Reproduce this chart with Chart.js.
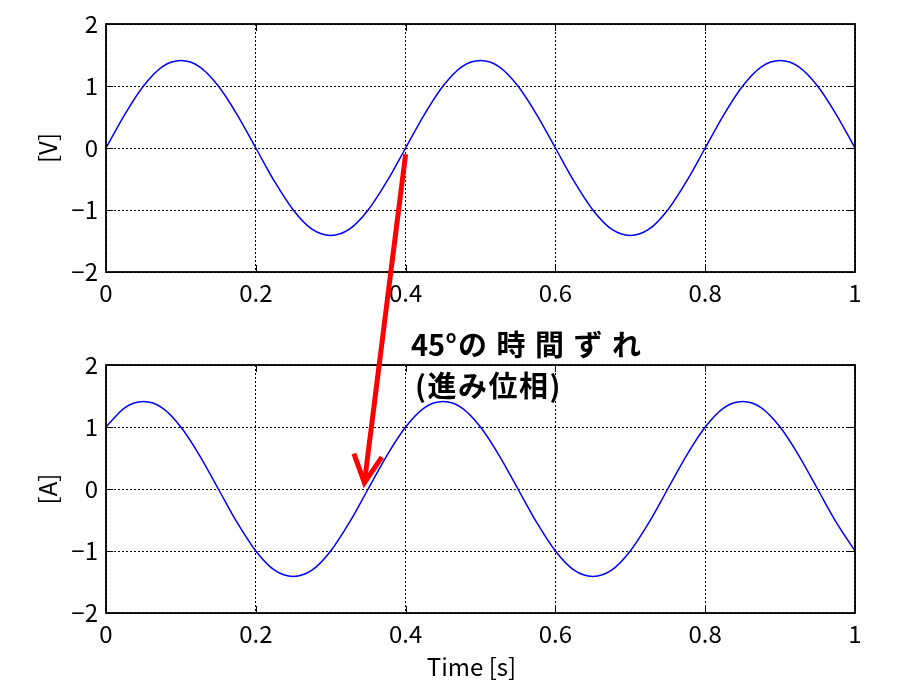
<!DOCTYPE html>
<html><head><meta charset="utf-8">
<script src="https://cdn.jsdelivr.net/npm/chart.js@4/dist/chart.umd.min.js"></script>
<style>
html,body{margin:0;padding:0;background:#fff;}
#wrap{position:relative;width:900px;height:695px;overflow:hidden;background:#fff;}
.box{position:absolute;left:0;width:900px;}
#c1box{top:0;height:310px;}
#c2box{top:341px;height:354px;}
#overlay{position:absolute;left:0;top:0;pointer-events:none;}
.note{position:absolute;font-family:"Noto Sans CJK JP";font-weight:bold;font-size:29px;color:#000;white-space:nowrap;line-height:1;}
</style></head><body>
<div id="wrap">
<div class="box" id="c1box"><canvas id="c1"></canvas></div>
<div class="box" id="c2box"><canvas id="c2"></canvas></div>
<canvas id="overlay" width="900" height="695"></canvas>
<div class="note" id="n1" style="left:411px;top:329px;"><span>45°</span><span style="letter-spacing:9.5px;margin-left:1px;">の時間ずれ</span></div>
<div class="note" id="n2" style="left:415px;top:370px;letter-spacing:1.5px;">(進み位相)</div>
</div>
<script>
const timeS = [0,0.025,0.05,0.075,0.1,0.125,0.15,0.175,0.2,0.225,0.25,0.275,0.3,0.325,0.35,0.375,0.4,0.425,0.45,0.475,0.5,0.525,0.55,0.575,0.6,0.625,0.65,0.675,0.7,0.725,0.75,0.775,0.8,0.825,0.85,0.875,0.9,0.925,0.95,0.975,1];
const voltage = [0,0.54,1,1.31,1.41,1.31,1,0.54,0,-0.54,-1,-1.31,-1.41,-1.31,-1,-0.54,0,0.54,1,1.31,1.41,1.31,1,0.54,0,-0.54,-1,-1.31,-1.41,-1.31,-1,-0.54,0,0.54,1,1.31,1.41,1.31,1,0.54,0];
const current = [1,1.31,1.41,1.31,1,0.54,0,-0.54,-1,-1.31,-1.41,-1.31,-1,-0.54,0,0.54,1,1.31,1.41,1.31,1,0.54,0,-0.54,-1,-1.31,-1.41,-1.31,-1,-0.54,0,0.54,1,1.31,1.41,1.31,1,0.54,0,-0.54,-1];
const xTickValues = [0,0.2,0.4,0.6,0.8,1];
const yTickValues = [-2,-1,0,1,2];
const topYLabel = '[V]';
const bottomYLabel = '[A]';
const xTitle = 'Time [s]';
const arrowFrom = [0.4, -0.1];   // in top chart (time, V)
const arrowTo = [0.345, 0.1];    // in bottom chart (time, A)

const FONT = '"Noto Sans CJK JP", "DejaVu Sans", sans-serif';

const frame = {
  id: 'frame',
  afterDraw(chart, args, opts) {
    const {ctx, chartArea: a, scales: {x, y}} = chart;
    ctx.save();
    ctx.setLineDash([]);
    ctx.strokeStyle = '#000';
    ctx.lineWidth = 1;
    ctx.beginPath();
    xTickValues.forEach(v => {
      const px = Math.round(x.getPixelForValue(v)) + 0.5;
      ctx.moveTo(px, a.bottom); ctx.lineTo(px, a.bottom - 7);
      ctx.moveTo(px, a.top); ctx.lineTo(px, a.top + 7);
    });
    yTickValues.forEach(v => {
      const py = Math.round(y.getPixelForValue(v)) + 0.5;
      ctx.moveTo(a.left, py); ctx.lineTo(a.left + 7, py);
      ctx.moveTo(a.right, py); ctx.lineTo(a.right - 7, py);
    });
    ctx.stroke();
    ctx.lineWidth = 1.8;
    ctx.strokeRect(a.left, a.top, a.right - a.left, a.bottom - a.top);
    if (opts.xTitle) {
      ctx.fillStyle = '#000';
      ctx.font = '24px ' + FONT;
      ctx.textAlign = 'center';
      ctx.textBaseline = 'middle';
      ctx.fillText(opts.xTitle, (a.left + a.right) / 2 - 9, a.bottom + 54);
    }
    ctx.restore();
  }
};

function fmt(v) {
  const n = Number(Number(v).toFixed(2));
  return n < 0 ? '\u2212' + Math.abs(n) : String(n);
}

function makeChart(id, values, yLabel, titleText, xHeight) {
  return new Chart(document.getElementById(id), {
    type: 'line',
    data: {
      datasets: [{
        data: timeS.map((t, i) => ({x: t, y: values[i]})),
        borderColor: '#0000ff',
        borderWidth: 1.5,
        pointRadius: 0,
        fill: false,
        cubicInterpolationMode: 'monotone'
      }]
    },
    options: {
      responsive: true,
      maintainAspectRatio: false,
      animation: false,
      devicePixelRatio: 1,
      layout: {padding: {left: 33, right: 45, top: 24, bottom: 0}},
      plugins: {legend: {display: false}, tooltip: {enabled: false}, frame: {xTitle: titleText}},
      scales: {
        x: {
          type: 'linear', min: 0, max: 1,
          afterBuildTicks: s => { s.ticks = xTickValues.map(v => ({value: v})); },
          afterFit: s => { s.height = xHeight; },
          grid: {color: '#000', lineWidth: 1, drawTicks: false},
          border: {display: false, dash: [2, 2]},
          ticks: {color: '#000', font: {family: FONT, size: 24}, padding: 6, maxRotation: 0, callback: v => fmt(v)},
          title: {display: false}
        },
        y: {
          type: 'linear', min: -2, max: 2,
          afterBuildTicks: s => { s.ticks = yTickValues.map(v => ({value: v})); },
          afterFit: s => { s.width = 73; },
          grid: {color: '#000', lineWidth: 1, drawTicks: false},
          border: {display: false, dash: [2, 2]},
          ticks: {color: '#000', font: {family: FONT, size: 24}, padding: 8, callback: v => fmt(v)},
          title: {display: true, text: yLabel, color: '#000', font: {family: FONT, size: 24}, padding: 0}
        }
      }
    },
    plugins: [frame]
  });
}

const ch1 = makeChart('c1', voltage, topYLabel, '', 38);
const ch2 = makeChart('c2', current, bottomYLabel, xTitle, 82);

const ov = document.getElementById('overlay');
const octx = ov.getContext('2d');
const off1 = document.getElementById('c1box').offsetTop;
const off2 = document.getElementById('c2box').offsetTop;
const sx = ch1.scales.x.getPixelForValue(arrowFrom[0]);
const sy = ch1.scales.y.getPixelForValue(arrowFrom[1]) + off1;
const ex = ch2.scales.x.getPixelForValue(arrowTo[0]);
const ey = ch2.scales.y.getPixelForValue(arrowTo[1]) + off2;
const ang = Math.atan2(ey - sy, ex - sx);
const wing = 31, spread = 27 * Math.PI / 180;
octx.strokeStyle = '#ff0000';
octx.lineWidth = 5;
octx.lineCap = 'butt';
octx.lineJoin = 'miter';
octx.beginPath();
octx.moveTo(sx, sy);
octx.lineTo(ex, ey);
octx.stroke();
octx.beginPath();
octx.moveTo(ex + wing * Math.cos(ang + Math.PI - spread), ey + wing * Math.sin(ang + Math.PI - spread));
octx.lineTo(ex, ey);
octx.lineTo(ex + wing * Math.cos(ang + Math.PI + spread), ey + wing * Math.sin(ang + Math.PI + spread));
octx.stroke();
</script>
</body></html>
